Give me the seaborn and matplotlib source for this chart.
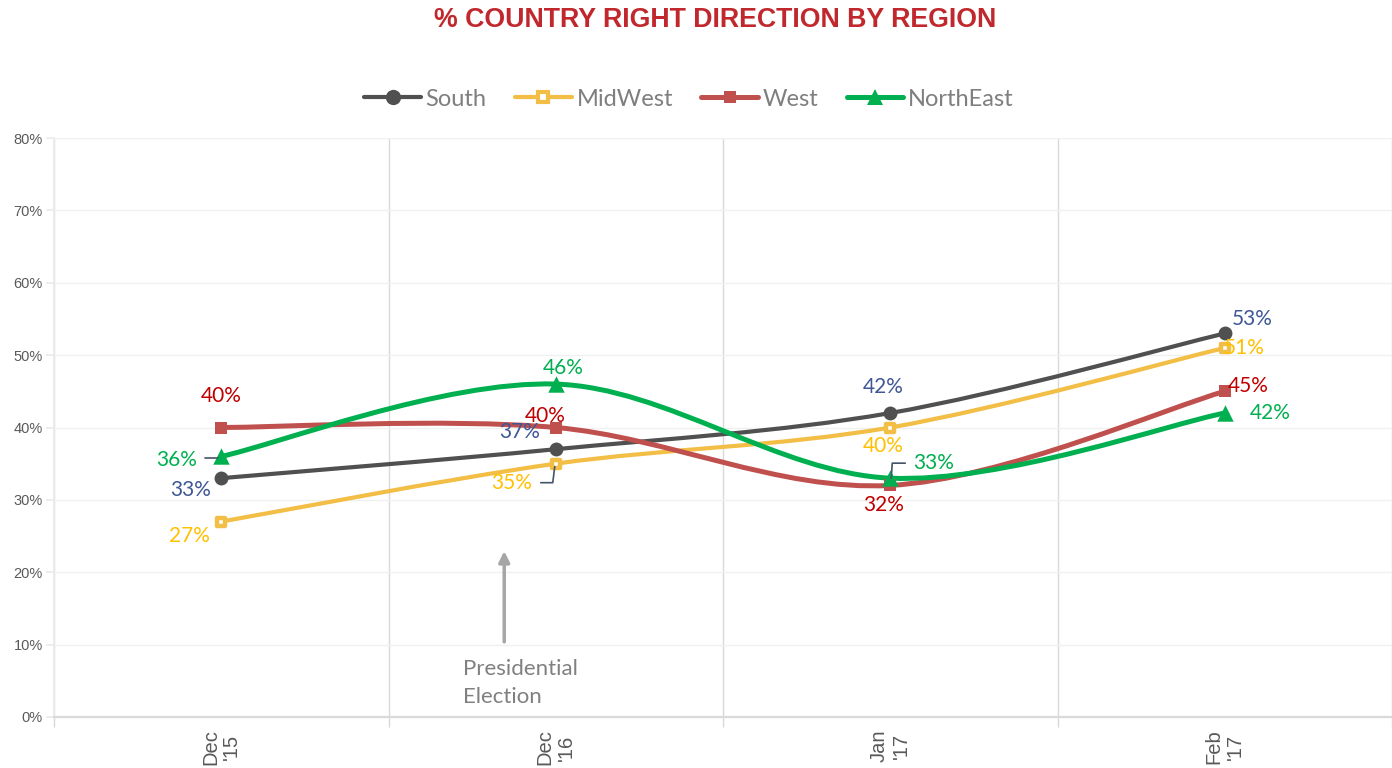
import numpy as np
import matplotlib
matplotlib.use("Agg")
import matplotlib.pyplot as plt
import matplotlib.transforms as mtransforms
from matplotlib.path import Path
from matplotlib.patches import PathPatch
from matplotlib.lines import Line2D
from matplotlib.ticker import PercentFormatter
import seaborn as sns

# data
periods = ["Dec\n'15", "Dec\n'16", "Jan\n'17", "Feb\n'17"]
regions = ["South", "MidWest", "West", "NorthEast"]
south = [33, 37, 42, 53]
midwest = [27, 35, 40, 51]
west = [40, 40, 32, 45]
northeast = [36, 46, 33, 42]

# styles
line_colors = {"South": "#505050", "MidWest": "#F2BE45", "West": "#C0504D", "NorthEast": "#00B050"}
label_colors = {"South": "#3F5796", "MidWest": "#FFC000", "West": "#C00000", "NorthEast": "#00B050"}
line_widths = {"South": 3.0, "MidWest": 3.0, "West": 3.6, "NorthEast": 3.6}
marker_kw = {
    "South": dict(marker="o", s=100, color="#505050", edgecolor="#505050", linewidth=0),
    "MidWest": dict(marker="s", s=34, color="white", edgecolor="#F2BE45", linewidth=3.2),
    "West": dict(marker="s", s=72, color="#C0504D", edgecolor="#C0504D", linewidth=0),
    "NorthEast": dict(marker="^", s=140, color="#00B050", edgecolor="#00B050", linewidth=0),
}
legend_marker = {
    "South": dict(marker="o", markersize=11, markerfacecolor="#505050", markeredgewidth=0),
    "MidWest": dict(marker="s", markersize=6.5, markerfacecolor="white", markeredgecolor="#F2BE45", markeredgewidth=3),
    "West": dict(marker="s", markersize=9, markerfacecolor="#C0504D", markeredgewidth=0),
    "NorthEast": dict(marker="^", markersize=12, markerfacecolor="#00B050", markeredgewidth=0),
}
# label offsets in pixels (dx, dy with y pointing down)
label_offsets = {
    "South": [(-31, 12), (-36, -17), (-7, -26), (27, -14)],
    "MidWest": [(-32, 14), (-44, 19), (-7, 18), (19, 0)],
    "West": [(0, -32), (-11, -11), (-7, 20), (23, -5)],
    "NorthEast": [(-45, 4), (7, -16), (43, -15), (45, 0)],
}
# leader lines in pixel offsets from the point
leaders = [
    ("NorthEast", 0, [(-16, 1.5), (-3, 1.5)]),
    ("MidWest", 1, [(-15, 19), (-3, 19), (-1, 3)]),
    ("NorthEast", 2, [(1, 0), (2, -15), (15, -15)]),
]
leader_color = "#44546A"


def smooth_path(xs, ys):
    # Catmull-Rom style bezier through the points (like an Excel smoothed line)
    pts = np.column_stack([xs, ys]).astype(float)
    padded = np.vstack([pts[0], pts, pts[-1]])
    verts = [pts[0]]
    codes = [Path.MOVETO]
    for i in range(len(pts) - 1):
        p0, p1, p2, p3 = padded[i], padded[i + 1], padded[i + 2], padded[i + 3]
        c1 = p1 + (p2 - p0) / 6.0
        c2 = p2 - (p3 - p1) / 6.0
        verts += [c1, c2, p2]
        codes += [Path.CURVE4] * 3
    return Path(verts, codes)


def main():
    series = {"South": south, "MidWest": midwest, "West": west, "NorthEast": northeast}
    x = np.arange(len(periods))

    sns.set_theme(style="white")
    plt.rcParams["font.family"] = ["Liberation Sans", "DejaVu Sans"]

    fig = plt.figure(figsize=(13.92, 7.68), dpi=100)
    ax = fig.add_axes([54 / 1392, 51 / 768, 1338 / 1392, 579 / 768])

    ax.set_xlim(-0.5, 3.5)
    ax.set_ylim(0, 80)

    for name in regions:
        vals = series[name]
        patch = PathPatch(smooth_path(x, vals), facecolor="none", edgecolor=line_colors[name],
                          lw=line_widths[name], capstyle="round", joinstyle="round", zorder=3)
        ax.add_patch(patch)
        sns.scatterplot(x=x, y=vals, ax=ax, zorder=4, legend=False, **marker_kw[name])

    # data labels
    for name in regions:
        vals = series[name]
        for i, v in enumerate(vals):
            dx, dy = label_offsets[name][i]
            ax.annotate(f"{v}%", xy=(x[i], v), xytext=(dx * 0.72, -dy * 0.72),
                        textcoords="offset points", ha="center", va="center",
                        fontsize=15, color=label_colors[name], family=["Lato", "DejaVu Sans"],
                        zorder=6)

    # leader lines
    fig.canvas.draw()
    for name, i, pts in leaders:
        bx, by = ax.transData.transform((x[i], series[name][i]))
        xs = [bx + p[0] for p in pts]
        ys = [by - p[1] for p in pts]
        ax.add_line(Line2D(xs, ys, color=leader_color, lw=1.2,
                           transform=mtransforms.IdentityTransform(), zorder=5))

    # election annotation
    ax.annotate("", xy=(0.846, 23.3), xytext=(0.846, 10),
                arrowprops=dict(arrowstyle="-|>", color="#A6A6A6", lw=2.5, mutation_scale=16))
    ax.text(0.723, 4.7, "Presidential\nElection", ha="left", va="center", fontsize=16,
            color="#808080", linespacing=1.55, family=["Lato", "DejaVu Sans"])

    # axes styling
    ax.set_xticks(x)
    ax.set_xticklabels(periods, rotation=90, fontsize=14.5, color="#595959", linespacing=1.15)
    ax.set_xticks([-0.5, 0.5, 1.5, 2.5, 3.5], minor=True)
    ax.tick_params(axis="x", which="major", length=0, pad=9)
    ax.tick_params(axis="x", which="minor", length=7, color="#D9D9D9", width=1, bottom=True)
    ax.grid(True, axis="x", which="minor", color="#D9D9D9", lw=1)
    ax.set_yticks(np.arange(0, 81, 10))
    ax.yaxis.set_major_formatter(PercentFormatter(decimals=0))
    ax.tick_params(axis="y", length=6, color="#EBEBEB", labelsize=10.5, labelcolor="#595959",
                   left=True, pad=2)
    ax.grid(True, axis="y", color="#F0F0F0", lw=1)
    ax.set_axisbelow(True)
    for side in ["top", "right"]:
        ax.spines[side].set_visible(False)
    ax.spines["left"].set_color("#EBEBEB")
    ax.spines["bottom"].set_color("#D9D9D9")
    ax.spines["bottom"].set_linewidth(1.6)

    # legend
    handles = [Line2D([0], [0], color=line_colors[n], lw=line_widths[n], solid_capstyle="round",
                      **legend_marker[n]) for n in regions]
    leg = fig.legend(handles, regions, loc="center", bbox_to_anchor=(0.495, 1 - 99 / 768), ncol=4,
                     frameon=False, handlelength=2.4, handletextpad=0.2, columnspacing=1.2,
                     prop={"family": ["Lato", "DejaVu Sans"], "size": 17})
    for t in leg.get_texts():
        t.set_color("#7F7F7F")

    fig.text(0.514, 1 - 20 / 768, "% COUNTRY RIGHT DIRECTION BY REGION", ha="center", va="center",
             fontsize=19.3, fontweight="bold", color="#C0282D")

    fig.savefig("out.png", dpi=100)
    plt.close(fig)


if __name__ == "__main__":
    main()
